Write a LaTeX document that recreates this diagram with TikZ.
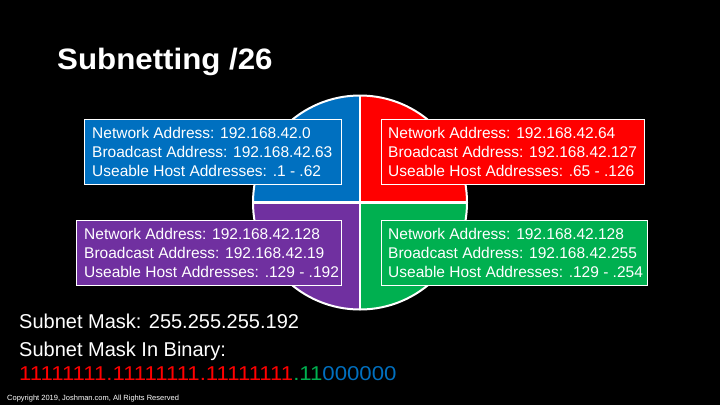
\documentclass[tikz,border=0pt]{standalone}
\usepackage{fontspec}
\setmainfont{Liberation Sans}
\newfontfamily\widefont[FakeStretch=1.11]{Liberation Sans}
\newfontfamily\titlefont[FakeStretch=1.06]{Liberation Sans}
\definecolor{qblue}{RGB}{0,112,192}
\definecolor{qred}{RGB}{255,0,0}
\definecolor{qpurple}{RGB}{112,48,160}
\definecolor{qgreen}{RGB}{0,176,80}
\begin{document}
\begin{tikzpicture}[x=1pt,y=-1pt,
  quadbox/.style={draw=white, line width=1.2pt, anchor=north west, inner sep=0pt},
  boxtext/.style={text=white, align=left, inner sep=0pt, anchor=west,
    font=\fontsize{15.5}{18.7}\selectfont},
  bottomtext/.style={text=white, inner sep=0pt, anchor=base west,
    font=\fontsize{20}{24}\selectfont},
  sep/.style={draw=white, line width=2.5pt}]
\fill[black] (0,0) rectangle (720,405);
\useasboundingbox (0,0) rectangle (720,405);

% title
\node[text=white, inner sep=0pt, anchor=base west, font=\titlefont\fontsize{29.5}{34}\selectfont\bfseries] (title) at (57,69) {Subnetting /26};

% pie
\coordinate (pc) at (360,202.5);
\fill[qblue] (pc) -- ++(180:107) arc[start angle=180, end angle=270, radius=107] -- cycle;
\fill[qred] (pc) -- ++(270:107) arc[start angle=270, end angle=360, radius=107] -- cycle;
\fill[qgreen] (pc) -- ++(0:107) arc[start angle=0, end angle=90, radius=107] -- cycle;
\fill[qpurple] (pc) -- ++(90:107) arc[start angle=90, end angle=180, radius=107] -- cycle;
\draw[white, line width=2pt] (pc) circle[radius=107];
\coordinate (ptop) at (360,95.5);
\coordinate (pbot) at (360,309.5);
\coordinate (plft) at (253,202.5);
\coordinate (prgt) at (467,202.5);
\draw[sep] (ptop) -- (pbot);
\draw[sep] (plft) -- (prgt);

% boxes
\node[quadbox, fill=qblue, minimum width=257pt, minimum height=65pt] (nb) at (84,119) {};
\node[quadbox, fill=qred, minimum width=263pt, minimum height=65pt] (nr) at (381,119) {};
\node[quadbox, fill=qpurple, minimum width=265pt, minimum height=65pt] (np) at (76,220) {};
\node[quadbox, fill=qgreen, minimum width=266pt, minimum height=65pt] (ng) at (381,220) {};

\node[boxtext] (tb) at ([xshift=8pt]nb.west) {Network Address: 192.168.42.0\\Broadcast Address: 192.168.42.63\\Useable Host Addresses: .1 - .62};
\node[boxtext] (tr) at ([xshift=7pt]nr.west) {Network Address: 192.168.42.64\\Broadcast Address: 192.168.42.127\\Useable Host Addresses: .65 - .126};
\node[boxtext] (tp) at ([xshift=8pt]np.west) {Network Address: 192.168.42.128\\Broadcast Address: 192.168.42.19\\Useable Host Addresses: .129 - .192};
\node[boxtext] (tg) at ([xshift=7pt]ng.west) {Network Address: 192.168.42.128\\Broadcast Address: 192.168.42.255\\Useable Host Addresses: .129 - .254};

% bottom text
\node[bottomtext] (mask) at (19,328) {Subnet Mask: 255.255.255.192};
\node[bottomtext] (binlbl) at (19,356.5) {Subnet Mask In Binary:};
\node[bottomtext, font=\widefont\fontsize{20}{24}\selectfont] (bin) at (19,380) {\textcolor{qred}{11111111.11111111.11111111}\textcolor{qgreen}{.11}\textcolor{qblue}{000000}};
\node[text=white, inner sep=0pt, anchor=base west, font=\fontsize{7.5}{8}\selectfont] (copy) at (7,400) {Copyright 2019, Joshman.com, All Rights Reserved};
\end{tikzpicture}
\end{document}
